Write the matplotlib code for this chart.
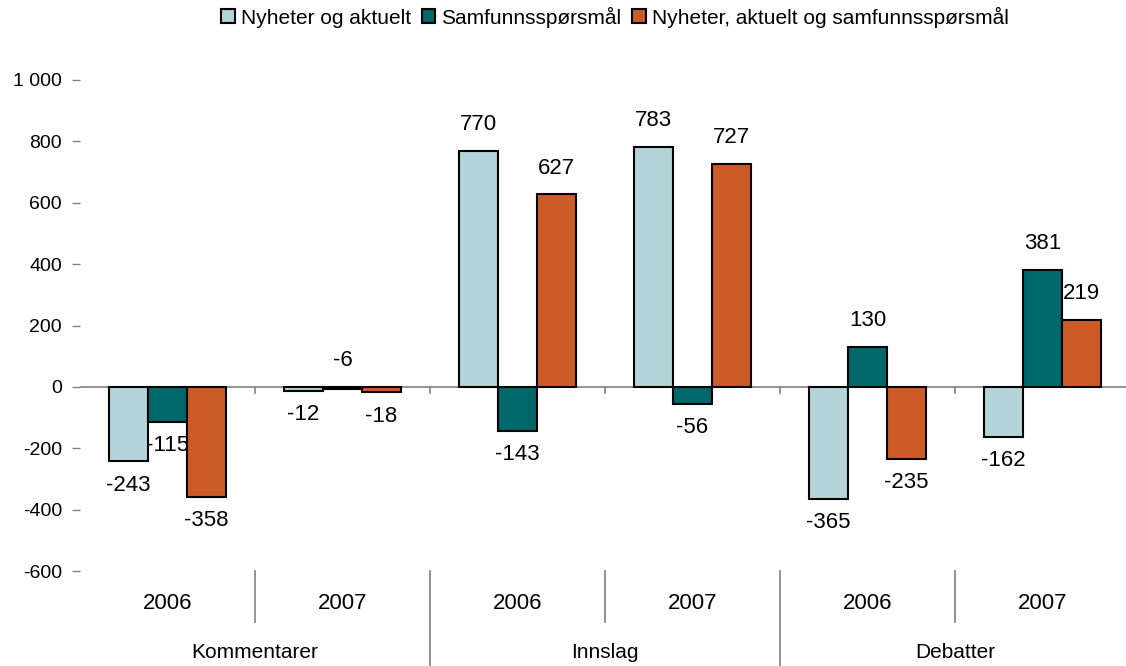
import matplotlib
matplotlib.use("Agg")
import matplotlib.pyplot as plt
import numpy as np

plt.rcParams["font.family"] = ["Liberation Sans", "DejaVu Sans"]

categories = ["Kommentarer", "Innslag", "Debatter"]
years = ["2006", "2007"]
series_names = ["Nyheter og aktuelt", "Samfunnsspørsmål", "Nyheter, aktuelt og samfunnsspørsmål"]
nyheter = [-243, -12, 770, 783, -365, -162]
samfunn = [-115, -6, -143, -56, 130, 381]
begge = [-358, -18, 627, 727, -235, 219]
colors = ["#B3D5D9", "#00676A", "#CD5B27"]

fig = plt.figure(figsize=(11.26, 6.66), dpi=100)
ax = fig.add_axes([80 / 1126, 1 - 571 / 666, 1046 / 1126, 491 / 666])

x = np.arange(6) + 0.5
w = 0.223
for i, (vals, c, name) in enumerate(zip([nyheter, samfunn, begge], colors, series_names)):
    xs = x + (i - 1) * w
    ax.bar(xs, vals, w, color=c, edgecolor="black", linewidth=1.5, label=name, zorder=3)
    for xi, v in zip(xs, vals):
        if v >= 0 or abs(v) < 10:
            ax.annotate(f"{v}", (xi, max(v, 0)), xytext=(0, 19), textcoords="offset points",
                        ha="center", va="center", fontsize=16)
        else:
            ax.annotate(f"{v}", (xi, v), xytext=(0, -17), textcoords="offset points",
                        ha="center", va="center", fontsize=16)

ax.set_xlim(0, 1046 / 175)
ax.set_ylim(-600, 1000)
ax.set_yticks(np.arange(-600, 1001, 200))
ax.set_yticklabels([f"{t:,}".replace(",", " ") for t in range(-600, 1001, 200)], fontsize=14)
ax.tick_params(axis="y", direction="out", length=6, width=1, color="#808080", pad=7)
ax.set_xticks([])
for s in ["top", "right", "bottom", "left"]:
    ax.spines[s].set_visible(False)

# zero line acting as category axis, with small ticks at group boundaries
ax.axhline(0, color="#808080", linewidth=1.2, zorder=2)
for b in range(1, 6):
    ax.plot([b, b], [0, -20], color="#808080", linewidth=1.2, zorder=2)

# y axis line running down through the label area
ax.plot([0, 0], [1.0, -0.195], color="#808080", linewidth=1.2,
        transform=ax.get_yaxis_transform(), clip_on=False)
tr = ax.get_xaxis_transform()
for b in [1, 3, 5]:
    ax.plot([b, b], [0.0, -0.104], color="#808080", linewidth=1.2, transform=tr, clip_on=False)
for b in [2, 4]:
    ax.plot([b, b], [0.0, -0.195], color="#808080", linewidth=1.2, transform=tr, clip_on=False)

for i in range(6):
    ax.text(i + 0.5, -0.067, years[i % 2], transform=tr, ha="center", va="center", fontsize=16)
for j, cat in enumerate(categories):
    ax.text(2 * j + 1, -0.165, cat, transform=tr, ha="center", va="center", fontsize=15)

fig.legend(loc="center", bbox_to_anchor=(615 / 1126, 1 - 17 / 666), ncol=3, frameon=False,
           fontsize=15, handlelength=0.65, handleheight=0.65, handletextpad=0.3, columnspacing=0.5)

fig.savefig("out.png", dpi=100)
